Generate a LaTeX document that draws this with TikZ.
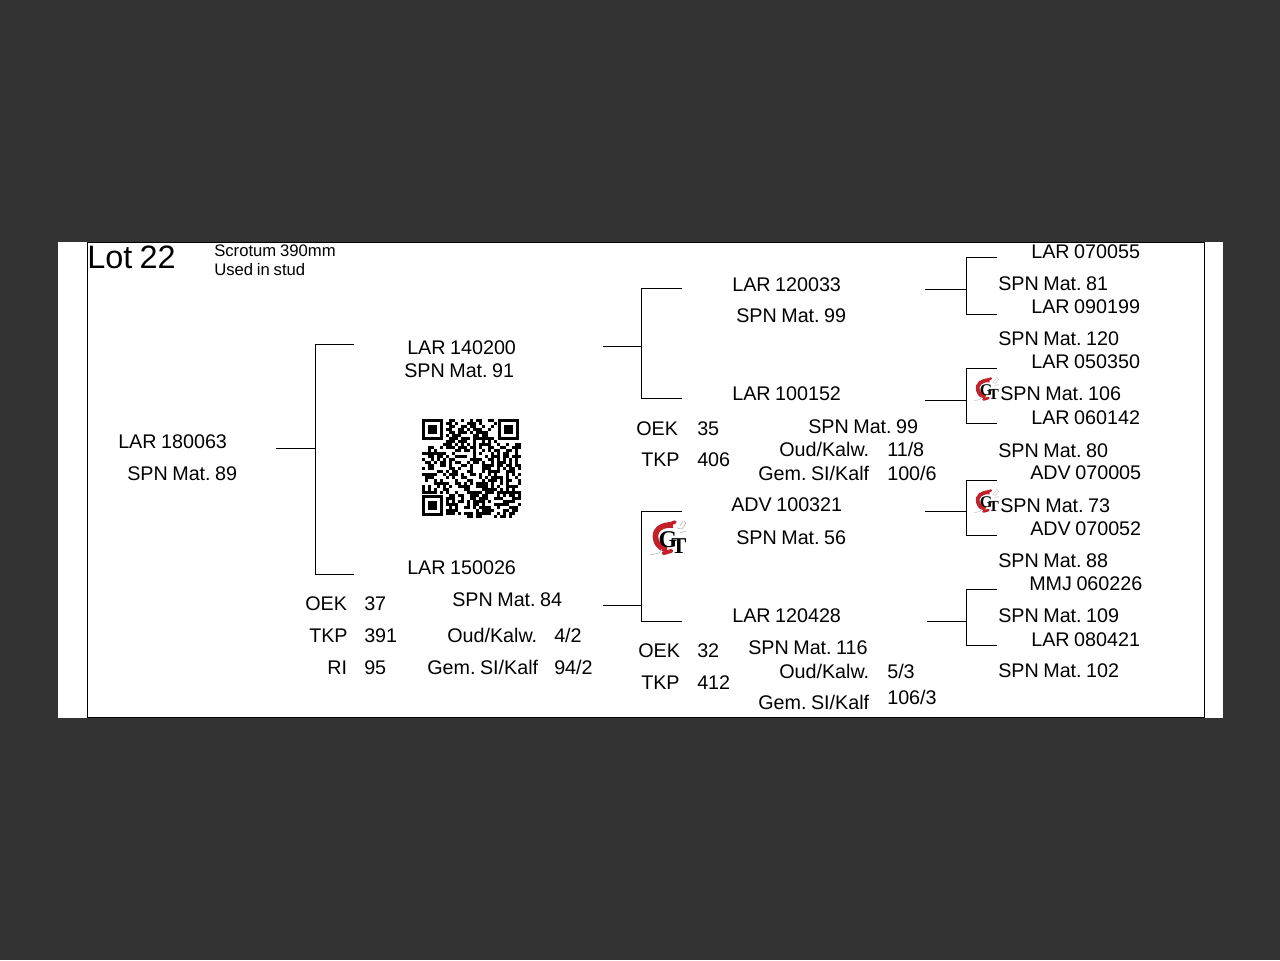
\documentclass[tikz,border=0pt]{standalone}
\usepackage{fontspec}
\usepackage{xcolor}
\setmainfont[WordSpace=0.82]{Liberation Sans}
\newfontfamily\logofont{Liberation Serif}
\definecolor{backdrop}{HTML}{333333}
\definecolor{logored}{HTML}{C4202A}
\newcommand{\gtlogo}[4]{%
    \begin{scope}[shift={(#2,#3)}, scale=#4]
        \pgfmathsetlengthmacro{\gsize}{#4*18pt}
        \pgfmathsetlengthmacro{\tsize}{#4*17pt}
        \draw[logored, line width=#4*4.2pt] (23,5) .. controls (12,4) and (3,10) .. (6,20) .. controls (8,27) and (13,29) .. (17,29);
        \draw[logored, line width=#4*2.6pt, line cap=round] (15,6) -- (25,2);
        \draw[logored, line width=#4*3pt, line cap=round] (14,33) -- (21,31);
        \draw[gray!60, line width=#4*0.4pt] (27,8) -- (32,9) -- (36,3) -- (34,1) (30,13) -- (36,11) (33,1) -- (30,6) (0,35) -- (9,33) -- (12,29);
        \node[inner sep=0pt, anchor=base, text=black, font=\logofont\bfseries\fontsize{\gsize}{\gsize}\selectfont] (#1g) at (18,27) {G};
        \node[inner sep=0pt, anchor=base, text=black, font=\logofont\bfseries\fontsize{\tsize}{\tsize}\selectfont] (#1t) at (29,33) {T};
    \end{scope}}
\begin{document}
\frenchspacing
\begin{tikzpicture}[
        x=0.75pt, y=-0.75pt,
        lab/.style={anchor=base west, inner sep=0pt, font=\fontsize{14.8pt}{16pt}\selectfont},
        note/.style={anchor=base west, inner sep=0pt, font=\fontsize{12.5pt}{15pt}\selectfont},
        branch/.style={draw=black, line width=0.75pt}
    ]
    \useasboundingbox (0,0) rectangle (1280,960);
    \fill[backdrop] (0,0) rectangle (1280,960);
    \fill[white] (58,242) rectangle (1223,718);
    \draw[black, line width=0.75pt] (87.5,718) -- (87.5,242.5) -- (1204.5,242.5) -- (1204.5,717.5) -- (87.5,717.5);

    % header
    \node[anchor=base west, inner sep=0pt, font=\fontsize{24.3pt}{26pt}\selectfont] (lot) at (87,268) {Lot 22};
    \node[note] (scrotum) at (214,256) {Scrotum 390mm};
    \node[note] (stud) at (214,275) {Used in stud};

    % animal
    \node[lab] (a) at (118,448) {LAR 180063};
    \node[lab] (am) at (127,480) {SPN Mat. 89};

    % sire and dam
    \node[lab] (s) at (407,354) {LAR 140200};
    \node[lab] (sm) at (404,377) {SPN Mat. 91};
    \node[lab] (d) at (407,574) {LAR 150026};
    \node[lab] (dm) at (452,606) {SPN Mat. 84};
    \node[lab] (doek) at (305,610) {OEK};
    \node[lab] (doekv) at (364,610) {37};
    \node[lab] (dtkp) at (309,642) {TKP};
    \node[lab] (dtkpv) at (364,642) {391};
    \node[lab] (dri) at (327,674) {RI};
    \node[lab] (driv) at (364,674) {95};
    \node[lab] (doud) at (447,642) {Oud/Kalw.};
    \node[lab] (doudv) at (554,642) {4/2};
    \node[lab] (dgem) at (427,674) {Gem. SI/Kalf};
    \node[lab] (dgemv) at (554,674) {94/2};

    % grandparents
    \node[lab] (ss) at (732,291) {LAR 120033};
    \node[lab] (ssm) at (736,322) {SPN Mat. 99};
    \node[lab] (sd) at (732,400) {LAR 100152};
    \node[lab] (soek) at (636,435) {OEK};
    \node[lab] (soekv) at (697,435) {35};
    \node[lab] (stkp) at (641,466) {TKP};
    \node[lab] (stkpv) at (697,466) {406};
    \node[lab] (sdm) at (808,433) {SPN Mat. 99};
    \node[lab] (soud) at (779,456) {Oud/Kalw.};
    \node[lab] (soudv) at (887,456) {11/8};
    \node[lab] (sgem) at (758,480) {Gem. SI/Kalf};
    \node[lab] (sgemv) at (887,480) {100/6};
    \node[lab] (ds) at (731,511) {ADV 100321};
    \node[lab] (dsm) at (736,544) {SPN Mat. 56};
    \node[lab] (dd) at (732,622) {LAR 120428};
    \node[lab] (ddoek) at (638,657) {OEK};
    \node[lab] (ddoekv) at (697,657) {32};
    \node[lab] (ddtkp) at (641,689) {TKP};
    \node[lab] (ddtkpv) at (697,689) {412};
    \node[lab] (ddm) at (748,654) {SPN Mat. 116};
    \node[lab] (ddoud) at (779,678) {Oud/Kalw.};
    \node[lab] (ddoudv) at (887,678) {5/3};
    \node[lab] (ddgem) at (758,709) {Gem. SI/Kalf};
    \node[lab] (ddgemv) at (887,704) {106/3};

    % great grandparents
    \node[lab] (sss) at (1031,258) {LAR 070055};
    \node[lab] (sssm) at (998,290) {SPN Mat. 81};
    \node[lab] (ssd) at (1031,313) {LAR 090199};
    \node[lab] (ssdm) at (998,345) {SPN Mat. 120};
    \node[lab] (sds) at (1031,368) {LAR 050350};
    \node[lab] (sdsm) at (1000,400) {SPN Mat. 106};
    \node[lab] (sdd) at (1031,424) {LAR 060142};
    \node[lab] (sddm) at (998,457) {SPN Mat. 80};
    \node[lab] (dss) at (1030,479) {ADV 070005};
    \node[lab] (dssm) at (1000,512) {SPN Mat. 73};
    \node[lab] (dsd) at (1030,535) {ADV 070052};
    \node[lab] (dsdm) at (998,567) {SPN Mat. 88};
    \node[lab] (dds) at (1029,590) {MMJ 060226};
    \node[lab] (ddsm) at (998,622) {SPN Mat. 109};
    \node[lab] (ddd) at (1031,646) {LAR 080421};
    \node[lab] (dddm) at (998,677) {SPN Mat. 102};

    % brackets
    \foreach \nm/\xa/\xb/\xc/\ym/\yt/\yb in {
        a/276/315.5/354/448.5/344.5/574.5,
        s/603/641.5/682/346.5/288.5/398.5,
        d/603/641.5/682/605.5/511.5/621.5,
        ss/925/966/997/289.5/257.5/314.5,
        sd/925/966/997/400.5/368.5/423.5,
        ds/925/966/997/511.5/480.5/535.5,
        dd/927/966/997/621.5/589.5/645.5} {
        \coordinate (\nm in) at (\xa,\ym);
        \coordinate (\nm mid) at (\xb,\ym);
        \coordinate (\nm up) at (\xc,\yt);
        \coordinate (\nm low) at (\xc,\yb);
        \draw[branch] (\nm in) -- (\nm mid);
        \draw[branch] (\nm up) -| (\nm mid) |- (\nm low);
    }

    % qr code
    \pgfmathsetseed{2218}
    \foreach \rw in {0,...,32} {
        \foreach \cl in {0,...,32} {
            \pgfmathsetmacro{\skipcell}{(\rw<8 && \cl<8) || (\rw<8 && \cl>24) || (\rw>24 && \cl<8) ? 1 : 0}
            \pgfmathsetmacro{\qrcell}{rnd}
            \ifdim\skipcell pt<0.5pt
                \ifdim\qrcell pt<0.52pt
                    \fill[black] ({422+3*\cl},{419+3*\rw}) rectangle ++(3,3);
                \fi
            \fi
        }
    }
    \foreach \fx/\fy in {422/419, 498/419, 422/495} {
        \fill[black] (\fx,\fy) rectangle ++(21,21);
        \fill[white] (\fx+3,\fy+3) rectangle ++(15,15);
        \fill[black] (\fx+6,\fy+6) rectangle ++(9,9);
    }

    % logos
    \gtlogo{la}{650}{520}{1}
    \gtlogo{lb}{974}{377}{0.68}
    \gtlogo{lc}{974}{489}{0.68}
\end{tikzpicture}
\end{document}
